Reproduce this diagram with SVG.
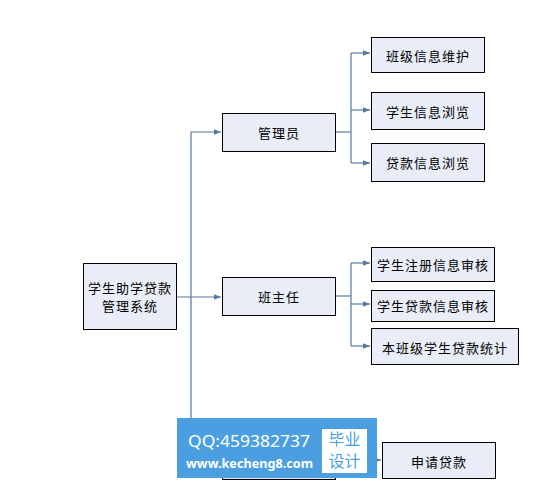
<svg xmlns="http://www.w3.org/2000/svg" width="556" height="484" viewBox="0 0 556 484">
<style>
.box{fill:#e9edf7;stroke:#000;stroke-width:1}
.t{font-family:"Noto Sans CJK SC","Liberation Sans",sans-serif;font-size:13px;fill:#000;text-anchor:middle;dominant-baseline:central;letter-spacing:1px}
.c{fill:none;stroke:#5878a0;stroke-width:1.2}
</style>
<defs>
<marker id="a" viewBox="0 0 10 10" refX="10" refY="5" markerWidth="7" markerHeight="7" markerUnits="userSpaceOnUse" orient="auto">
<path d="M0,1 L10,5 L0,9 z" fill="#5878a0"/>
</marker>
</defs>
<rect width="556" height="484" fill="#fff"/>
<g id="connectors">
<path class="c" d="M177,297 H221" marker-end="url(#a)"/>
<path class="c" d="M191,297 V132 H221" marker-end="url(#a)"/>
<path class="c" d="M191,297 V460 H221" marker-end="url(#a)"/>
<path class="c" d="M335,132 H351"/>
<path class="c" d="M351,53 V163"/>
<path class="c" d="M351,53 H370" marker-end="url(#a)"/>
<path class="c" d="M351,110 H370" marker-end="url(#a)"/>
<path class="c" d="M351,163 H370" marker-end="url(#a)"/>
<path class="c" d="M335,296 H351"/>
<path class="c" d="M351,263 V346"/>
<path class="c" d="M351,263 H370" marker-end="url(#a)"/>
<path class="c" d="M351,304 H370" marker-end="url(#a)"/>
<path class="c" d="M351,346 H370" marker-end="url(#a)"/>
<path class="c" d="M336,460 H381" marker-end="url(#a)"/>
</g>
<g id="root"><rect class="box" x="83.5" y="263.5" width="93" height="66"/><text class="t" x="130" y="287">学生助学贷款</text><text class="t" x="130" y="305">管理系统</text></g>
<g id="admin"><rect class="box" x="222.5" y="113.5" width="113" height="38"/><text class="t" x="279" y="132">管理员</text></g>
<g id="teacher"><rect class="box" x="222.5" y="277.5" width="113" height="38"/><text class="t" x="279" y="296">班主任</text></g>
<g id="student"><rect class="box" x="222.5" y="441.5" width="113" height="38"/></g>
<g id="n1"><rect class="box" x="371.5" y="37.5" width="113" height="35"/><text class="t" x="428" y="55">班级信息维护</text></g>
<g id="n2"><rect class="box" x="371.5" y="92.5" width="113" height="37"/><text class="t" x="428" y="111">学生信息浏览</text></g>
<g id="n3"><rect class="box" x="371.5" y="143.5" width="113" height="38"/><text class="t" x="428" y="162">贷款信息浏览</text></g>
<g id="n4"><rect class="box" x="371.5" y="247.5" width="123" height="34"/><text class="t" x="433" y="264">学生注册信息审核</text></g>
<g id="n5"><rect class="box" x="371.5" y="290.5" width="123" height="31"/><text class="t" x="433" y="305">学生贷款信息审核</text></g>
<g id="n6"><rect class="box" x="371.5" y="328.5" width="147" height="36"/><text class="t" x="445" y="347">本班级学生贷款统计</text></g>
<g id="n7"><rect class="box" x="382.5" y="442.5" width="113" height="36"/><text class="t" x="439" y="461">申请贷款</text></g>
<g id="watermark">
<rect x="177" y="418" width="200" height="60" fill="#4b9fe1"/>
<rect x="322" y="429" width="45" height="44" fill="#fff"/>
<text x="188" y="447" font-family="'Noto Sans','Liberation Sans',sans-serif" font-size="17" fill="#fff" textLength="122" lengthAdjust="spacingAndGlyphs">QQ:459382737</text>
<text x="186" y="468" font-family="'Noto Sans','Liberation Sans',sans-serif" font-size="13" font-weight="bold" fill="#fff" textLength="127" lengthAdjust="spacingAndGlyphs">www.kecheng8.com</text>
<text x="344.5" y="445" font-family="'Noto Sans CJK SC',sans-serif" font-size="16" fill="#4b9fe1" text-anchor="middle">毕业</text>
<text x="344.5" y="467" font-family="'Noto Sans CJK SC',sans-serif" font-size="16" fill="#4b9fe1" text-anchor="middle">设计</text>
</g>
</svg>
